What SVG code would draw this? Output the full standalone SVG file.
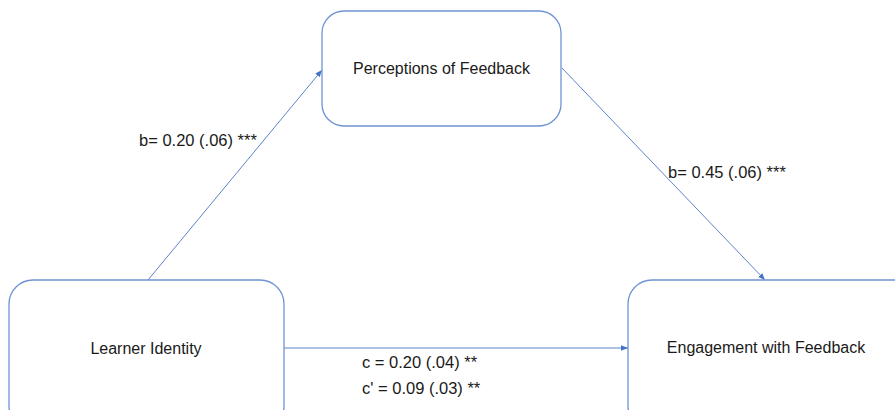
<svg xmlns="http://www.w3.org/2000/svg" width="895" height="410" viewBox="0 0 895 410">
<style>
.box{fill:#fff;stroke:#6f93d3;stroke-width:1.3}
.t{font-family:"Liberation Sans",Arial,sans-serif;font-size:16px;fill:#1a1a1a}
.l{font-size:16.5px}
.c{stroke:#5b84cc;stroke-width:1;fill:none;marker-end:url(#ah)}
</style>
<defs>
<marker id="ah" viewBox="0 0 10 10" refX="10" refY="5" markerWidth="7" markerHeight="7" orient="auto" markerUnits="userSpaceOnUse">
<path d="M0,1 L10,5 L0,9 Z" fill="#4472c4"/>
</marker>
</defs>
<rect width="895" height="410" fill="#fff"/>
<g id="connectors">
<line class="c" x1="148" y1="280" x2="322" y2="70"/>
<line class="c" x1="562" y1="68" x2="765" y2="280"/>
<line class="c" x1="284" y1="348" x2="628" y2="348"/>
</g>
<g id="perceptions">
<rect class="box" x="322" y="11" width="239" height="115" rx="22"/>
<text class="t" x="441.5" y="74" text-anchor="middle">Perceptions of Feedback</text>
</g>
<g id="learner">
<rect class="box" x="9" y="280" width="275" height="150" rx="24"/>
<text class="t" x="146" y="354" text-anchor="middle">Learner Identity</text>
</g>
<g id="engagement">
<rect class="box" x="628" y="280" width="290" height="150" rx="24"/>
<text class="t" x="766" y="353" text-anchor="middle">Engagement with Feedback</text>
</g>
<g id="labels">
<text class="t l" x="139" y="146">b= 0.20 (.06) ***</text>
<text class="t l" x="668" y="178">b= 0.45 (.06) ***</text>
<text class="t l" x="362" y="368">c = 0.20 (.04) **</text>
<text class="t l" x="362" y="394">c' = 0.09 (.03) **</text>
</g>
</svg>
